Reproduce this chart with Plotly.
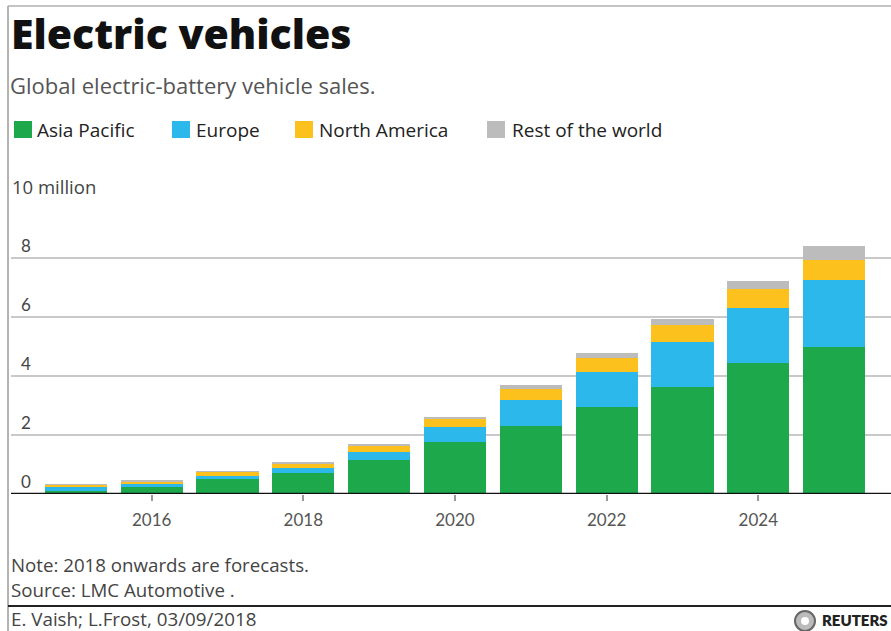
import plotly.graph_objects as go

# Global electric-battery vehicle sales, millions of units
years = [2015, 2016, 2017, 2018, 2019, 2020, 2021, 2022, 2023, 2024, 2025]
asia_pacific = [0.11, 0.25, 0.50, 0.72, 1.14, 1.77, 2.32, 2.94, 3.64, 4.43, 4.97]
europe = [0.12, 0.10, 0.12, 0.16, 0.28, 0.49, 0.87, 1.18, 1.51, 1.88, 2.29]
north_america = [0.08, 0.09, 0.14, 0.17, 0.22, 0.27, 0.37, 0.50, 0.58, 0.63, 0.67]
rest_of_world = [0.01, 0.01, 0.01, 0.02, 0.03, 0.09, 0.13, 0.17, 0.20, 0.28, 0.47]

region_names = ["Asia Pacific", "Europe", "North America", "Rest of the world"]
region_colors = ["#1ca84b", "#2db8ec", "#fdc11e", "#bcbcbc"]
region_values = [asia_pacific, europe, north_america, rest_of_world]

y_ticks = [0, 2, 4, 6, 8]
x_ticks = [2016, 2018, 2020, 2022, 2024]

W, H = 891, 631
PL, PR, PT, PB = 11, 891, 199, 494  # plot area in pixels


def fx(px):
    return (px - PL) / (PR - PL)


def fy(py):
    return (PB - py) / (PB - PT)


FONT = "'Open Sans', Lato, sans-serif"
AXIS_FONT = "Lato, 'Open Sans', sans-serif"

fig = go.Figure()
for name, color, vals in zip(region_names, region_colors, region_values):
    fig.add_trace(go.Bar(
        x=years, y=vals, name=name,
        marker=dict(color=color, line=dict(width=0)),
        width=0.82, hoverinfo="skip", showlegend=False,
    ))

annotations = []
shapes = []


def text(s, x, y, size, color="#444", weight=None, anchor="left", family=FONT):
    font = dict(family=family, size=size, color=color)
    if weight:
        font["weight"] = weight
    annotations.append(dict(
        text=s, xref="paper", yref="paper", x=fx(x), y=fy(y),
        xanchor=anchor, yanchor="middle", showarrow=False, font=font,
        borderpad=0,
    ))


text("Electric vehicles", 10, 33, 41, color="#111", weight=800)
text("Global electric-battery vehicle sales.", 9, 85, 22, color="#555")

# Legend: colour squares with labels
legend_pos = [(14, 36), (172, 195), (295, 318), (487, 511)]
for (sx, tx), name, color in zip(legend_pos, region_names, region_colors):
    shapes.append(dict(type="rect", xref="paper", yref="paper",
                       x0=fx(sx), x1=fx(sx + 18), y0=fy(138), y1=fy(121),
                       fillcolor=color, line=dict(width=0)))
    text(name, tx, 130, 19, color="#222")

# Value-axis labels sitting above each gridline
text("10 million", 11, 186, 18.5, color="#444")
for v in y_ticks:
    annotations.append(dict(
        text=str(v), xref="paper", yref="y", x=fx(33), y=v,
        xanchor="right", yanchor="middle", yshift=13, showarrow=False,
        font=dict(family=AXIS_FONT, size=17, color="#444"),
    ))

text("Note: 2018 onwards are forecasts.", 10, 564, 18.7, color="#444")
text("Source: LMC Automotive .", 10, 589, 18.7, color="#444")
text("E. Vaish; L.Frost, 03/09/2018", 10, 619, 18.8, color="#444")
text("REUTERS", 821, 620, 15, color="#222", weight=800, family=AXIS_FONT)

# Reuters mark
shapes.append(dict(type="circle", xref="paper", yref="paper",
                   x0=fx(795), x1=fx(815), y0=fy(631), y1=fy(611),
                   fillcolor="#bbbbbb", line=dict(color="#666", width=2)))
shapes.append(dict(type="circle", xref="paper", yref="paper",
                   x0=fx(801), x1=fx(809), y0=fy(625), y1=fy(617),
                   fillcolor="white", line=dict(width=0)))

# Frame lines
shapes.append(dict(type="line", xref="paper", yref="paper",
                   x0=fx(8), x1=fx(8), y0=fy(6), y1=fy(H),
                   line=dict(color="#9a9a9a", width=1.5)))
shapes.append(dict(type="line", xref="paper", yref="paper",
                   x0=fx(8), x1=fx(W), y0=fy(6), y1=fy(6),
                   line=dict(color="#b0b0b0", width=1.5)))
shapes.append(dict(type="line", xref="paper", yref="paper",
                   x0=fx(8), x1=fx(W), y0=fy(606), y1=fy(606),
                   line=dict(color="#222", width=2)))
# Baseline
shapes.append(dict(type="line", xref="paper", yref="y",
                   x0=0, x1=1, y0=0, y1=0,
                   line=dict(color="#111", width=2.5)))

fig.update_layout(
    width=W, height=H,
    margin=dict(l=PL, r=W - PR, t=PT, b=H - PB, pad=0),
    paper_bgcolor="white", plot_bgcolor="white",
    barmode="stack", bargap=0,
    showlegend=False,
    annotations=annotations, shapes=shapes,
    xaxis=dict(range=[2014.145, 2025.75], tickvals=x_ticks,
               ticks="outside", ticklen=6, tickcolor="#999", tickwidth=1.5,
               ticklabelstandoff=5,
               showgrid=False, showline=False, zeroline=False,
               tickfont=dict(family=AXIS_FONT, size=17, color="#555"),
               fixedrange=True),
    yaxis=dict(range=[0, 10], tickvals=[0, 2, 4, 6, 8, 10],
               showticklabels=False, ticks="",
               showgrid=True, gridcolor="#c9c9c9", gridwidth=1.5,
               zeroline=False, showline=False, fixedrange=True),
)

fig.write_html("out.html", config={"displayModeBar": False})
